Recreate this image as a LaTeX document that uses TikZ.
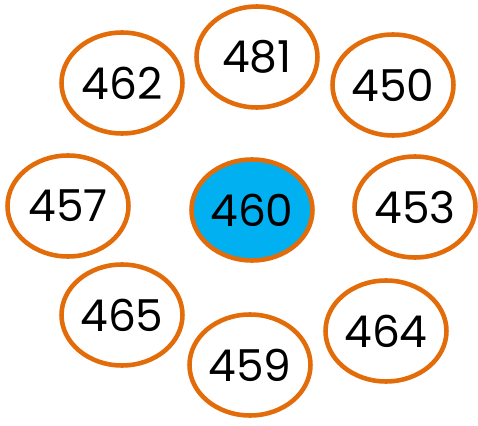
\documentclass[tikz,border=0pt]{standalone}
\usepackage{fontspec}
\setmainfont{Poppins}
\usetikzlibrary{shapes.geometric}
\definecolor{ringorange}{HTML}{E36C0A}
\definecolor{centreblue}{HTML}{00B0F0}
\tikzset{
  numring/.style={ellipse, draw=ringorange, line width=2.6pt, fill=white,
    minimum width=2.42cm, minimum height=2.02cm, inner sep=0pt,
    font=\fontsize{25}{30}\selectfont},
  centrering/.style={numring, fill=centreblue}
}
\begin{document}
\begin{tikzpicture}[x=0.02cm, y=-0.02cm]
  \useasboundingbox (0,0) rectangle (478,426);
  % centre
  \node[centrering] (c460) at (252,210) {460};

  % outer ring of numbers
  \node[numring] (n481) at (257,57)  {481};
  \node[numring] (n462) at (122,83)  {462};
  \node[numring] (n450) at (393,85)  {450};
  \node[numring] (n457) at (68,206)  {457};
  \node[numring] (n453) at (415,207) {453};
  \node[numring] (n465) at (122,315) {465};
  \node[numring] (n464) at (386,331) {464};
  \node[numring] (n459) at (250,365) {459};
\end{tikzpicture}
\end{document}
